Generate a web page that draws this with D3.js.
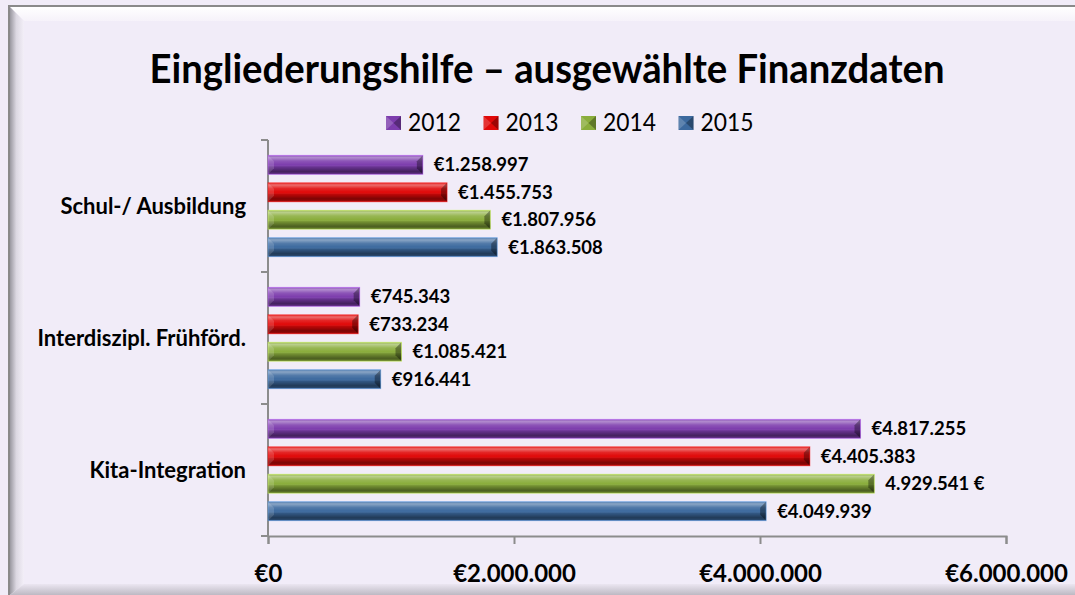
<!DOCTYPE html>
<html>
<head>
<meta charset="utf-8">
<script src="https://cdn.jsdelivr.net/npm/d3@7"></script>
<style>
  body { margin: 0; background: #fff; }
  svg { display: block; font-family: Lato, "Open Sans", sans-serif; }
</style>
</head>
<body>
<svg id="chart" width="1075" height="595"></svg>
<script>
// Daten
var categories = ["Schul-/ Ausbildung", "Interdiszipl. Frühförd.", "Kita-Integration"];
var years = ["2012", "2013", "2014", "2015"];
var values2012 = [1258997, 745343, 4817255];
var values2013 = [1455753, 733234, 4405383];
var values2014 = [1807956, 1085421, 4929541];
var values2015 = [1863508, 916441, 4049939];
var xTicks = [0, 2000000, 4000000, 6000000];
var euroAfter = [["Kita-Integration", "2014"]]; // dieses Label steht als "4.929.541 €"

var colors = { "2012": "#7d3dad", "2013": "#e00808", "2014": "#8aad3c", "2015": "#3c699e" };

var W = 1075, H = 595;
var plotLeft = 268, plotRight = 1006, plotTop = 140, plotBottom = 536;

var svg = d3.select("#chart");
var defs = svg.append("defs");

// Rahmen / Hintergrund
svg.append("rect").attr("width", W).attr("height", H).attr("fill", "#f1ecf8");

var gTop = defs.append("linearGradient").attr("id", "bevTop").attr("x1", 0).attr("y1", 0).attr("x2", 0).attr("y2", 1);
gTop.append("stop").attr("offset", "0%").attr("stop-color", "#ffffff");
gTop.append("stop").attr("offset", "100%").attr("stop-color", "#f6f2fa");
var gLeft = defs.append("linearGradient").attr("id", "bevLeft").attr("x1", 0).attr("y1", 0).attr("x2", 1).attr("y2", 0);
gLeft.append("stop").attr("offset", "0%").attr("stop-color", "#9a98a0");
gLeft.append("stop").attr("offset", "45%").attr("stop-color", "#dcd8e2");
gLeft.append("stop").attr("offset", "100%").attr("stop-color", "#f3eff8");
var gBot = defs.append("linearGradient").attr("id", "bevBot").attr("x1", 0).attr("y1", 0).attr("x2", 0).attr("y2", 1);
gBot.append("stop").attr("offset", "0%").attr("stop-color", "#ebe6f1");
gBot.append("stop").attr("offset", "100%").attr("stop-color", "#bdb9c3");

svg.append("polygon").attr("points", "10,7 1075,7 1075,21 24,21").attr("fill", "url(#bevTop)");
svg.append("polygon").attr("points", "10,7 24,21 24,584 10,595").attr("fill", "url(#bevLeft)");
svg.append("polygon").attr("points", "10,595 24,584 1075,584 1075,595").attr("fill", "url(#bevBot)");
svg.append("rect").attr("x", 8).attr("y", 5).attr("width", W - 8).attr("height", 2).attr("fill", "#8a8a8a");
svg.append("rect").attr("x", 8).attr("y", 5).attr("width", 2).attr("height", H - 5).attr("fill", "#8a8a8a");

// Titel
svg.append("text")
  .attr("x", 547).attr("y", 83)
  .attr("text-anchor", "middle")
  .attr("font-size", 41).attr("font-weight", "bold")
  .attr("textLength", 795).attr("lengthAdjust", "spacingAndGlyphs")
  .text("Eingliederungshilfe – ausgewählte Finanzdaten");

// Glanz-Verlauf fuer die Balken
var shine = defs.append("linearGradient").attr("id", "shine").attr("x1", 0).attr("y1", 0).attr("x2", 0).attr("y2", 1);
[[0, "#fff", 0.15], [0.12, "#fff", 0.4], [0.3, "#fff", 0.12], [0.5, "#fff", 0], [0.6, "#000", 0.15],
 [0.85, "#000", 0.45], [1, "#000", 0.25]].forEach(function(s) {
  shine.append("stop").attr("offset", s[0]).attr("stop-color", s[1]).attr("stop-opacity", s[2]);
});

// Legende
var legend = svg.append("g");
years.forEach(function(yr, i) {
  var lx = 386 + i * 97.5;
  legend.append("rect").attr("x", lx).attr("y", 116).attr("width", 15).attr("height", 14).attr("fill", colors[yr]);
  legend.append("polygon")
    .attr("points", [[lx, 116], [lx + 7.5, 123], [lx, 130]].join(" "))
    .attr("fill", "#fff").attr("fill-opacity", 0.18);
  legend.append("polygon")
    .attr("points", [[lx + 15, 116], [lx + 7.5, 123], [lx + 15, 130]].join(" "))
    .attr("fill", "#000").attr("fill-opacity", 0.3);
  legend.append("text").attr("x", lx + 22).attr("y", 131)
    .attr("font-size", 25).attr("textLength", 53).attr("lengthAdjust", "spacingAndGlyphs")
    .text(yr);
});

// Skalen
var x = d3.scaleLinear().domain([0, 6000000]).range([plotLeft, plotRight]);
var y = d3.scaleBand().domain(categories).range([plotTop, plotBottom]).padding(0);
var yInner = d3.scaleBand().domain(years).range([0, y.bandwidth()]).paddingInner(0.31).paddingOuter(0.56);

var de = d3.formatLocale({ decimal: ",", thousands: ".", grouping: [3], currency: ["€", ""] });
var fmtEuro = de.format("$,.0f");
var fmtNum = de.format(",.0f");

var seriesValues = { "2012": values2012, "2013": values2013, "2014": values2014, "2015": values2015 };
var data = [];
categories.forEach(function(c, ci) {
  years.forEach(function(yr) {
    data.push({ cat: c, year: yr, value: seriesValues[yr][ci] });
  });
});

function labelText(d) {
  var after = euroAfter.some(function(e) { return e[0] == d.cat && e[1] == d.year; });
  return after ? fmtNum(d.value) + " €" : fmtEuro(d.value);
}

// Achsen
var xAxis = d3.axisBottom(x).tickValues(xTicks).tickSize(8).tickFormat(fmtEuro);
var gx = svg.append("g").attr("transform", "translate(0," + plotBottom + ")").call(xAxis);
gx.select(".domain").attr("stroke", "#8c8c8c").attr("stroke-width", 2);
gx.selectAll(".tick line").attr("stroke", "#8c8c8c").attr("stroke-width", 2);
gx.selectAll(".tick text")
  .attr("y", 46).attr("dy", 0)
  .attr("fill", "#000").attr("font-size", 24).attr("font-weight", "bold")
  .attr("font-family", "Lato, sans-serif");

var gy = svg.append("g").attr("transform", "translate(" + plotLeft + ",0)");
gy.append("line").attr("x1", 0).attr("x2", 0).attr("y1", plotTop).attr("y2", plotBottom)
  .attr("stroke", "#8c8c8c").attr("stroke-width", 2);
gy.selectAll(".sep")
  .data(categories.map(function(c) { return y(c); }).concat([y.range()[1]]))
  .enter().append("line")
  .attr("x1", -7).attr("x2", 0)
  .attr("y1", function(d) { return d; }).attr("y2", function(d) { return d; })
  .attr("stroke", "#8c8c8c").attr("stroke-width", 2);
gy.selectAll(".cat")
  .data(categories)
  .enter().append("text")
  .attr("x", -22)
  .attr("y", function(d) { return y(d) + y.bandwidth() / 2; })
  .attr("dy", "0.35em")
  .attr("text-anchor", "end")
  .attr("font-size", 22).attr("font-weight", "bold")
  .text(function(d) { return d; });

// Balken
var bars = svg.append("g").selectAll("g.bar")
  .data(data)
  .enter().append("g").attr("class", "bar");

var bev = 6;
bars.append("rect")
  .attr("x", x(0))
  .attr("y", function(d) { return y(d.cat) + yInner(d.year); })
  .attr("width", function(d) { return x(d.value) - x(0); })
  .attr("height", yInner.bandwidth())
  .attr("fill", function(d) { return colors[d.year]; });
bars.append("rect")
  .attr("x", x(0))
  .attr("y", function(d) { return y(d.cat) + yInner(d.year); })
  .attr("width", function(d) { return x(d.value) - x(0); })
  .attr("height", yInner.bandwidth())
  .attr("fill", "url(#shine)");
// Kanten links (hell) und rechts (dunkel)
bars.append("polygon")
  .attr("points", function(d) {
    var y0 = y(d.cat) + yInner(d.year), y1 = y0 + yInner.bandwidth(), x0 = x(0);
    return [[x0, y0], [x0 + bev, y0 + bev], [x0 + bev, y1 - bev], [x0, y1]].join(" ");
  })
  .attr("fill", "#fff").attr("fill-opacity", 0.15);
bars.append("polygon")
  .attr("points", function(d) {
    var y0 = y(d.cat) + yInner(d.year), y1 = y0 + yInner.bandwidth(), x1 = x(d.value);
    return [[x1, y0], [x1 - bev, y0 + bev], [x1 - bev, y1 - bev], [x1, y1]].join(" ");
  })
  .attr("fill", "#000").attr("fill-opacity", 0.35);
bars.append("rect")
  .attr("x", x(0))
  .attr("y", function(d) { return y(d.cat) + yInner(d.year); })
  .attr("width", function(d) { return x(d.value) - x(0); })
  .attr("height", yInner.bandwidth())
  .attr("fill", "none")
  .attr("stroke", function(d) { return d3.color(colors[d.year]).brighter(1.2); })
  .attr("stroke-opacity", 0.5)
  .attr("stroke-width", 1);

// Datenbeschriftungen
bars.append("text")
  .attr("x", function(d) { return x(d.value) + 11; })
  .attr("y", function(d) { return y(d.cat) + yInner(d.year) + yInner.bandwidth() / 2; })
  .attr("dy", "0.36em")
  .attr("font-size", 18.5).attr("font-weight", "bold")
  .text(labelText);
</script>
</body>
</html>
